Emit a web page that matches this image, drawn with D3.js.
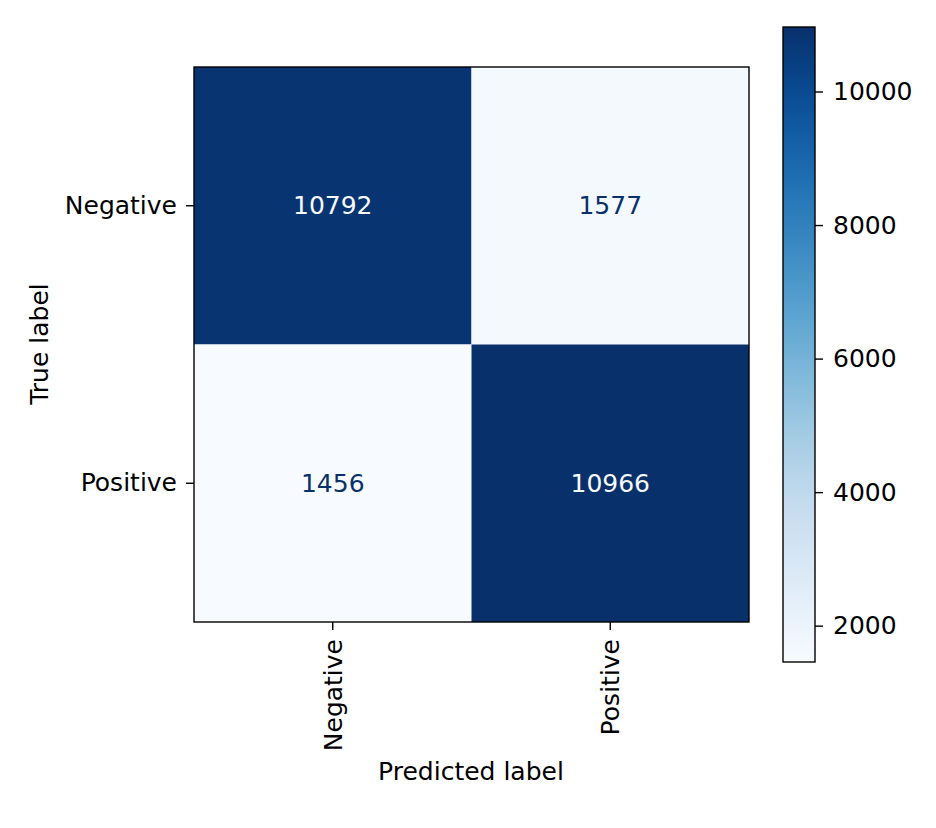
<!DOCTYPE html>
<html>
<head>
<meta charset="utf-8">
<script src="https://cdn.jsdelivr.net/npm/d3@7"></script>
<style>
  body { margin: 0; background: #fff; }
  text { font-family: "DejaVu Sans", sans-serif; }
</style>
</head>
<body>
<div id="chart"></div>
<script>
/* Data */
var categories = ["Negative", "Positive"];
var trueLabels = ["Negative", "Negative", "Positive", "Positive"];
var predLabels = ["Negative", "Positive", "Negative", "Positive"];
var counts = [10792, 1577, 1456, 10966];
var colorbarTicks = [2000, 4000, 6000, 8000, 10000];

/* Settings */
var width = 936,
    height = 828,
    fontSize = 25,
    tickLen = 8,
    lineW = 1.4;

var cells = counts.map(function(v, i) {
  return {t: trueLabels[i], p: predLabels[i], v: v};
});

var vmin = d3.min(counts), vmax = d3.max(counts);

var x = d3.scaleBand().domain(categories).range([194, 749]);
var y = d3.scaleBand().domain(categories).range([67, 622]);
var color = d3.scaleSequential(d3.interpolateBlues).domain([vmin, vmax]);

var svg = d3.select("#chart").append("svg")
    .attr("width", width)
    .attr("height", height)
    .attr("viewBox", "0 0 " + width + " " + height);

/* Cells */
svg.append("g").selectAll("rect")
  .data(cells)
  .join("rect")
    .attr("x", function(d) { return x(d.p); })
    .attr("y", function(d) { return y(d.t); })
    .attr("width", x.bandwidth())
    .attr("height", y.bandwidth())
    .attr("fill", function(d) { return color(d.v); });

var thresh = (vmin + vmax) / 2;
svg.append("g").selectAll("text")
  .data(cells)
  .join("text")
    .attr("x", function(d) { return x(d.p) + x.bandwidth() / 2; })
    .attr("y", function(d) { return y(d.t) + y.bandwidth() / 2; })
    .attr("text-anchor", "middle")
    .attr("dominant-baseline", "central")
    .attr("font-size", fontSize)
    .attr("fill", function(d) { return d.v > thresh ? color(vmin) : color(vmax); })
    .text(function(d) { return d.v; });

/* Frame */
svg.append("rect")
  .attr("x", 194).attr("y", 67)
  .attr("width", 555).attr("height", 555)
  .attr("fill", "none")
  .attr("stroke", "black")
  .attr("stroke-width", lineW);

/* Axes */
var xAxis = svg.append("g")
  .attr("transform", "translate(0,622)")
  .call(d3.axisBottom(x).tickSize(tickLen).tickSizeOuter(0));
xAxis.select(".domain").remove();
xAxis.selectAll("line").attr("stroke-width", lineW);
xAxis.selectAll("text")
  .attr("font-size", fontSize)
  .attr("font-family", "DejaVu Sans")
  .attr("transform", "rotate(-90)")
  .attr("text-anchor", "end")
  .attr("dy", "0.35em")
  .attr("x", -(tickLen + 9))
  .attr("y", 0);

var yAxis = svg.append("g")
  .attr("transform", "translate(194,0)")
  .call(d3.axisLeft(y).tickSize(tickLen).tickSizeOuter(0));
yAxis.select(".domain").remove();
yAxis.selectAll("line").attr("stroke-width", lineW);
yAxis.selectAll("text")
  .attr("font-size", fontSize)
  .attr("font-family", "DejaVu Sans")
  .attr("x", -(tickLen + 9));

svg.append("text")
  .attr("x", 471).attr("y", 780)
  .attr("text-anchor", "middle")
  .attr("font-size", fontSize)
  .text("Predicted label");

svg.append("text")
  .attr("transform", "translate(48,344) rotate(-90)")
  .attr("text-anchor", "middle")
  .attr("font-size", fontSize)
  .text("True label");

/* Colorbar */
var cbX = 783, cbW = 32, cbTop = 27, cbBottom = 662;
var cy = d3.scaleLinear().domain([vmin, vmax]).range([cbBottom, cbTop]);

var grad = svg.append("defs").append("linearGradient")
  .attr("id", "cbgrad")
  .attr("x1", 0).attr("y1", 1).attr("x2", 0).attr("y2", 0);
grad.selectAll("stop")
  .data(d3.range(0, 1.0001, 0.02))
  .join("stop")
    .attr("offset", function(t) { return t; })
    .attr("stop-color", function(t) { return d3.interpolateBlues(t); });

svg.append("rect")
  .attr("x", cbX).attr("y", cbTop)
  .attr("width", cbW).attr("height", cbBottom - cbTop)
  .attr("fill", "url(#cbgrad)")
  .attr("stroke", "black")
  .attr("stroke-width", lineW);

var cAxis = svg.append("g")
  .attr("transform", "translate(" + (cbX + cbW) + ",0)")
  .call(d3.axisRight(cy).tickValues(colorbarTicks).tickSize(tickLen).tickFormat(d3.format("d")));
cAxis.select(".domain").remove();
cAxis.selectAll("line").attr("stroke-width", lineW);
cAxis.selectAll("text")
  .attr("font-size", fontSize)
  .attr("font-family", "DejaVu Sans")
  .attr("x", tickLen + 10);
</script>
</body>
</html>
